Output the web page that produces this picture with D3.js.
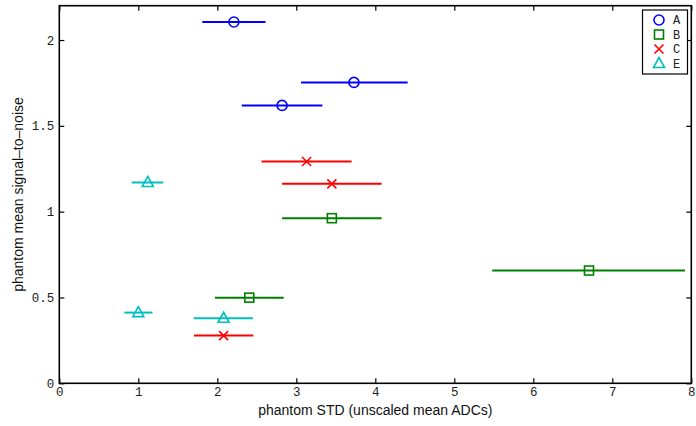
<!DOCTYPE html>
<html><head><meta charset="utf-8">
<script src="https://cdn.jsdelivr.net/npm/d3@7"></script>
<style>body{margin:0;background:#fff}svg{display:block}</style>
</head><body>
<svg id="c" width="696" height="426"></svg>
<script>
const seriesNames = ["A","B","C","E"];
const seriesColors = ["#0000ff","#008000","#ff0000","#00bfbf"];
const seriesMarkers = ["circle","square","x","triangle"];
// x = mean STD, y = SNR, lo/hi = horizontal error extent
const xA = [2.21, 3.73, 2.82], yA = [2.105, 1.753, 1.619], loA = [1.81, 3.06, 2.31], hiA = [2.61, 4.41, 3.33];
const xB = [3.45, 2.405, 6.705], yB = [0.962, 0.499, 0.657], loB = [2.82, 1.97, 5.48], hiB = [4.08, 2.84, 7.92];
const xC = [3.13, 3.45, 2.08], yC = [1.292, 1.162, 0.278], loC = [2.56, 2.82, 1.705], hiC = [3.70, 4.08, 2.456];
const xE = [1.12, 1.0, 2.08], yE = [1.17, 0.412, 0.379], loE = [0.916, 0.823, 1.70], hiE = [1.316, 1.18, 2.45];
const xTicks = [0,1,2,3,4,5,6,7,8];
const yTicks = [0,0.5,1,1.5,2];
const yTickLabels = ["0","0.5","1","1.5","2"];
const xTitle = "phantom STD (unscaled mean ADCs)";
const yTitle = "phantom mean signal\u2013to\u2013noise";

const series = [
  {x:xA,y:yA,lo:loA,hi:hiA},{x:xB,y:yB,lo:loB,hi:hiB},
  {x:xC,y:yC,lo:loC,hi:hiC},{x:xE,y:yE,lo:loE,hi:hiE}
].map((s,i)=>({...s,name:seriesNames[i],color:seriesColors[i],marker:seriesMarkers[i]}));

const svg = d3.select("#c");
const L=59.3, R=691.3, T=5.7, B=383.3;
const x = d3.scaleLinear().domain([0,8]).range([L,R]);
const y = d3.scaleLinear().domain([0,2.2]).range([B,T]);
const mono = "'Liberation Mono','DejaVu Sans Mono',monospace";
const sans = "'Liberation Sans',Arial,sans-serif";

function drawMarker(g, type, cx, cy, color){
  const s = g.append("g").attr("transform",`translate(${cx},${cy})`)
    .attr("fill","none").attr("stroke",color).attr("stroke-width",1.6);
  if(type==="circle") s.append("circle").attr("r",5);
  else if(type==="square") s.append("rect").attr("x",-4.5).attr("y",-4.5).attr("width",9).attr("height",9);
  else if(type==="x") s.append("path").attr("d","M-4.5,-4.5L4.5,4.5M-4.5,4.5L4.5,-4.5");
  else if(type==="triangle") s.append("path").attr("d","M0,-6L5.5,4L-5.5,4Z");
}

// error bars & markers
const plot = svg.append("g");
series.forEach(s=>{
  s.x.forEach((xv,i)=>{
    plot.append("line").attr("x1",x(s.lo[i])).attr("x2",x(s.hi[i]))
      .attr("y1",y(s.y[i])).attr("y2",y(s.y[i]))
      .attr("stroke",s.color).attr("stroke-width",2);
    drawMarker(plot, s.marker, x(xv), y(s.y[i]), s.color);
  });
});

// axes (box with inward ticks)
const axB = d3.axisBottom(x).tickValues(xTicks).tickSize(-5).tickPadding(4).tickFormat(d3.format("d"));
const axT = d3.axisTop(x).tickValues(xTicks).tickSize(-5).tickFormat("");
const axLft = d3.axisLeft(y).tickValues(yTicks).tickSize(-5).tickPadding(5).tickFormat((d,i)=>yTickLabels[i]);
const axRt = d3.axisRight(y).tickValues(yTicks).tickSize(-5).tickFormat("");
function style(g){
  g.select(".domain").attr("stroke","#000").attr("stroke-width",1.6);
  g.selectAll(".tick line").attr("stroke","#000").attr("stroke-width",1.2);
  g.selectAll(".tick text").attr("fill","#222").style("font-family",mono).style("font-size","12.5px");
}
svg.append("g").attr("transform",`translate(0,${B})`).call(axB).call(style);
svg.append("g").attr("transform",`translate(0,${T})`).call(axT).call(style);
svg.append("g").attr("transform",`translate(${L},0)`).call(axLft).call(style);
svg.append("g").attr("transform",`translate(${R},0)`).call(axRt).call(style);
svg.selectAll(".domain").attr("d",null);
svg.append("rect").attr("x",L).attr("y",T).attr("width",R-L).attr("height",B-T)
  .attr("fill","none").attr("stroke","#000").attr("stroke-width",1.6);

// titles
svg.append("text").attr("x",(L+R)/2).attr("y",415).attr("text-anchor","middle")
  .style("font-family",sans).style("font-size","14px").attr("fill","#111").text(xTitle);
svg.append("text").attr("transform",`translate(23,${(T+B)/2}) rotate(-90)`).attr("text-anchor","middle")
  .style("font-family",sans).style("font-size","14px").attr("fill","#111").text(yTitle);

// legend
const lg = svg.append("g");
lg.append("rect").attr("x",642.5).attr("y",10).attr("width",45).attr("height",64)
  .attr("fill","#fff").attr("stroke","#000").attr("stroke-width",1.2);
series.forEach((s,i)=>{
  const ly = 20 + i*14.5;
  drawMarker(lg, s.marker, 659, ly, s.color);
  lg.append("text").attr("x",673).attr("y",ly+4).style("font-family",mono).style("font-size","12px")
    .attr("fill","#222").text(s.name);
});
</script>
</body></html>
